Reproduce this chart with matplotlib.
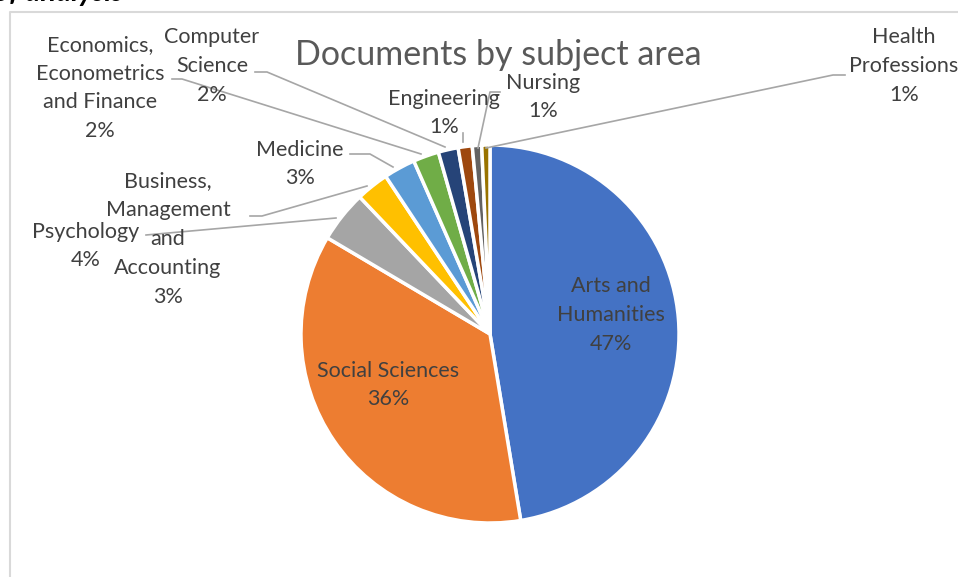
import matplotlib
matplotlib.use("Agg")
import matplotlib.pyplot as plt

# share of documents per subject area (percent)
subjects = ["Arts and\nHumanities", "Social Sciences", "Psychology",
            "Business,\nManagement\nand\nAccounting", "Medicine",
            "Economics,\nEconometrics\nand Finance", "Computer\nScience",
            "Engineering", "Nursing", "Health\nProfessions"]
shares = [47.4, 36.1, 4.4, 2.8, 2.7, 2.2, 1.7, 1.2, 0.8, 0.7]
colors = ["#4472C4", "#ED7D31", "#A5A5A5", "#FFC000", "#5B9BD5",
          "#70AD47", "#264478", "#9E480E", "#636363", "#997300"]

W, H = 958, 577
plt.rcParams['font.family'] = ['Lato', 'DejaVu Sans']

fig = plt.figure(figsize=(W / 100, H / 100), dpi=100)
ax = fig.add_axes([0, 0, 1, 1])


def Y(py):
    # pixel row (from top) -> data y
    return H - py


ax.pie(shares, colors=colors, startangle=90, counterclock=False,
       center=(490, Y(334)), radius=189, explode=[0.02] * len(shares),
       wedgeprops=dict(edgecolor='white', linewidth=2.5))
ax.set_xlim(0, W)
ax.set_ylim(0, H)
ax.set_aspect('equal')
ax.axis('off')

total = sum(shares)
lab_color = "#404040"
fs = 15.5

# label text position (center, pixels) and leader line (pixels) per slice
label_pos = [(611, 315), (388, 385), (86, 246), (168, 239), (300, 164),
             (100, 88), (212, 66), (444, 113), (543, 97), (904, 66)]
leaders = [None, None,
           [(146, 235), (336, 218)],
           [(250, 216), (262, 216), (367, 186)],
           [(350, 154), (370, 154), (393, 167)],
           [(172, 79), (182, 79), (421, 154)],
           [(255, 72), (267, 72), (445, 147)],
           [(463, 133), (463, 142)],
           [(500, 92), (490, 92), (478, 148)],
           [(845, 75), (833, 75), (486, 148)]]

for name, val, (px, py), ln in zip(subjects, shares, label_pos, leaders):
    txt = f"{name}\n{val / total * 100:.0f}%"
    ax.text(px, Y(py), txt, ha='center', va='center', fontsize=fs,
            color=lab_color, linespacing=1.55, zorder=5)
    if ln:
        ax.plot([p[0] for p in ln], [Y(p[1]) for p in ln], color="#A6A6A6",
                lw=1.2, zorder=4)

ax.text(498, Y(55), "Documents by subject area", ha='center', va='center',
        fontsize=24.5, color="#595959")

# chart border
ax.plot([10, 10, W + 5], [-5, Y(12), Y(12)], color="#D9D9D9", lw=1.5)

# cut-off caption above the chart
ax.text(-6, Y(1), "of analysis", ha='left', va='baseline', fontsize=21,
        style='italic', fontweight='bold', color='black')

fig.savefig("out.png", dpi=100)
